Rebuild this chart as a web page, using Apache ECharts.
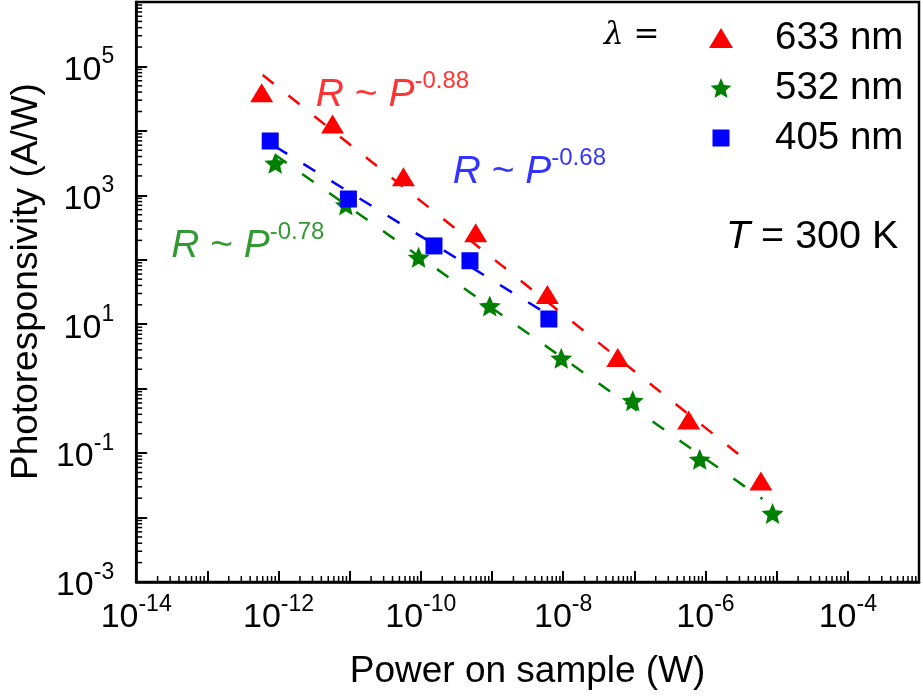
<!DOCTYPE html>
<html>
<head>
<meta charset="utf-8">
<title>Photoresponsivity vs power</title>
<script src="https://cdn.jsdelivr.net/npm/echarts@6.0.0/dist/echarts.min.js"></script>
<style>
  html, body { margin: 0; padding: 0; background: #fff; }
  #chart { width: 923px; height: 696px; }
</style>
</head>
<body>
<div id="chart"></div>
<script>
// Incident power (W) and photoresponsivity (A/W) for each excitation wavelength
const power633 = [5.8e-13, 5.75e-12, 5.7e-11, 5.9e-10, 6.0e-9, 5.85e-8, 5.8e-7, 6.0e-6];
const resp633  = [3.9e4, 1.28e4, 1950, 263, 29, 3.05, 0.325, 0.037];
const power532 = [9.0e-13, 8.85e-12, 9.3e-11, 9.3e-10, 9.4e-9, 9.5e-8, 8.3e-7, 8.75e-6];
const resp532  = [3140, 708, 109, 19.2, 2.96, 0.65, 0.080, 0.0116];
const power405 = [7.65e-13, 9.6e-12, 1.53e-10, 4.9e-10, 6.3e-9];
const resp405  = [6970, 877, 164, 96.6, 12.05];

// Power-law fits R ~ P^k : exponent, start point [P, R], end power
const fitExp633 = -0.88, fitStart633 = [6.0e-13, 7.36e4], fitEnd633 = 3.55e-6;
const fitExp532 = -0.78, fitStart532 = [9.0e-13, 4240],  fitEnd532 = 6.3e-6;
const fitExp405 = -0.68, fitStart405 = [9.0e-13, 5715],  fitEnd405 = 6.3e-9;

// Axis ranges and labelled decades
const xRange = [1e-14, 1e-3];
const yRange = [1e-3, 1e6];
const xLabelExponents = [-14, -12, -10, -8, -6, -4];
const yLabelExponents = [-3, -1, 1, 3, 5];

const SANS = "'Liberation Sans', Arial, Helvetica, sans-serif";
const SERIF = "'DejaVu Serif', 'Liberation Serif', serif";
const RED = '#ff0000', GREEN = '#008000', BLUE = '#0000ff';

function zip(xs, ys) { return xs.map((x, i) => [x, ys[i]]); }

function fitLine(k, start, endP) {
  const endR = start[1] * Math.pow(endP / start[0], k);
  return [start, [endP, endR]];
}

// five-pointed star outline
function starPath(outer, inner) {
  const pts = [];
  for (let i = 0; i < 10; i++) {
    const a = (-90 + 36 * i) * Math.PI / 180;
    const r = i % 2 ? inner : outer;
    pts.push((r * Math.cos(a)).toFixed(3) + ',' + (r * Math.sin(a)).toFixed(3));
  }
  return 'path://M' + pts.join('L') + 'Z';
}
const STAR = starPath(10, 4.5);
// square centred in a 24x20 box so the legend keeps it small
const LEGEND_SQUARE = 'path://M0,0M24,20M3.5,1.5L20.5,1.5L20.5,18.5L3.5,18.5Z';

// minor tick values (2..9 x 10^n) inside each axis range
function minorTicks(lo, hi) {
  const out = [];
  for (let e = Math.round(Math.log10(lo)); e < Math.round(Math.log10(hi)); e++) {
    for (let m = 2; m <= 9; m++) out.push(m * Math.pow(10, e));
  }
  return out;
}
const xMinor = minorTicks(xRange[0], xRange[1]);
const yMinor = minorTicks(yRange[0], yRange[1]);

function expOf(v) { return Math.round(Math.log10(v)); }

const tickRich = {
  b: { fontSize: 34, fontFamily: SANS, color: '#000', verticalAlign: 'bottom' },
  s: { fontSize: 23, fontFamily: SANS, color: '#000', verticalAlign: 'top' }
};

function powerLabel(color, exponent, coord) {
  return {
    type: 'scatter', silent: true, symbolSize: 0, z: 6,
    data: [coord],
    label: {
      show: true, position: 'right', distance: 0, lineHeight: 45,
      formatter: '{i|R}{n| ~ }{i|P}{s|' + exponent + '}',
      rich: {
        i: { fontSize: 39, fontStyle: 'italic', fontFamily: SANS, color: color, verticalAlign: 'bottom' },
        n: { fontSize: 39, fontFamily: SANS, color: color, verticalAlign: 'bottom' },
        s: { fontSize: 24, fontFamily: SANS, color: color, verticalAlign: 'top' }
      }
    }
  };
}

function fitSeries(color, data) {
  return {
    type: 'line', data: data, symbol: 'none', silent: true, z: 5,
    lineStyle: { color: color, width: 2.5, type: [14, 19], cap: 'butt' }
  };
}

const chart = echarts.init(document.getElementById('chart'), null, { renderer: 'canvas' });

chart.setOption({
  animation: false,
  backgroundColor: '#fff',
  grid: { left: 135, right: 4, top: 2, bottom: 114, show: true, borderColor: '#000', borderWidth: 2.5 },
  xAxis: {
    type: 'log', logBase: 10, min: xRange[0], max: xRange[1], interval: 1,
    name: 'Power on sample (W)', nameLocation: 'middle', nameGap: 71,
    nameTextStyle: { fontSize: 37, fontFamily: SANS, color: '#000' },
    axisLine: { lineStyle: { color: '#000', width: 2.5 } },
    axisTick: { inside: true, length: 11, lineStyle: { color: '#000', width: 2 } },
    splitLine: { show: false },
    axisLabel: {
      margin: 11, lineHeight: 42, rich: tickRich,
      formatter: v => xLabelExponents.includes(expOf(v)) ? '{b|10}{s|' + expOf(v) + '}' : ''
    }
  },
  yAxis: {
    type: 'log', logBase: 10, min: yRange[0], max: yRange[1], interval: 1,
    name: 'Photoresponsivity (A/W)', nameLocation: 'middle', nameGap: 87,
    nameTextStyle: { fontSize: 37, fontFamily: SANS, color: '#000', padding: [0, 0, 0, 21] },
    axisLine: { lineStyle: { color: '#000', width: 2.5 } },
    axisTick: { inside: true, length: 11, lineStyle: { color: '#000', width: 2 } },
    splitLine: { show: false },
    axisLabel: {
      margin: 22, lineHeight: 42, rich: tickRich,
      formatter: v => yLabelExponents.includes(expOf(v)) ? '{b|10}{s|' + expOf(v) + '}' : ''
    }
  },
  legend: {
    orient: 'vertical', left: 704, top: 12, itemWidth: 24, itemHeight: 20, itemGap: 8,
    selectedMode: false,
    textStyle: { fontSize: 38.5, fontFamily: SANS, color: '#000', lineHeight: 37, padding: [5, 0, 0, 37] },
    data: [
      { name: '633 nm', icon: 'triangle' },
      { name: '532 nm', icon: STAR },
      { name: '405 nm', icon: LEGEND_SQUARE }
    ]
  },
  graphic: [
    {
      type: 'text', x: 604, y: 36, silent: true,
      style: {
        text: '{l|λ}{e| =}', verticalAlign: 'middle',
        rich: {
          l: { fontSize: 31, fontStyle: 'italic', fontFamily: SERIF, fill: '#000' },
          e: { fontSize: 31, fontFamily: SERIF, fill: '#000' }
        }
      }
    },
    {
      type: 'text', x: 726, y: 237, silent: true,
      style: {
        text: '{i|T}{n| = 300 K}', verticalAlign: 'middle',
        rich: {
          i: { fontSize: 39.5, fontStyle: 'italic', fontFamily: SANS, fill: '#000' },
          n: { fontSize: 39.5, fontFamily: SANS, fill: '#000' }
        }
      }
    }
  ],
  series: [
    {
      name: '532 nm', type: 'scatter', z: 2, symbol: STAR, symbolSize: [22, 21],
      itemStyle: { color: GREEN, opacity: 1 }, data: zip(power532, resp532)
    },
    {
      name: '405 nm', type: 'scatter', z: 3, symbol: 'rect', symbolSize: 17,
      itemStyle: { color: BLUE, opacity: 1 }, data: zip(power405, resp405)
    },
    {
      name: '633 nm', type: 'scatter', z: 3, symbol: 'triangle', symbolSize: [23, 19],
      itemStyle: { color: RED, opacity: 1 }, data: zip(power633, resp633)
    },
    fitSeries(RED, fitLine(fitExp633, fitStart633, fitEnd633)),
    fitSeries(GREEN, fitLine(fitExp532, fitStart532, fitEnd532)),
    fitSeries(BLUE, fitLine(fitExp405, fitStart405, fitEnd405)),
    powerLabel(RED, '-0.88', [3.35e-12, 4.03e4]),
    powerLabel(BLUE, '-0.68', [2.8e-10, 2534]),
    powerLabel(GREEN, '-0.78', [3.1e-14, 182]),
    {
      // minor ticks along the power axis
      type: 'custom', silent: true, z: 7,
      data: xMinor.map(v => [v, yRange[0]]),
      renderItem: (params, api) => {
        const p = api.coord([api.value(0), api.value(1)]);
        return { type: 'line', shape: { x1: p[0], y1: p[1], x2: p[0], y2: p[1] - 6 },
                 style: { stroke: '#000', lineWidth: 1.5 } };
      }
    },
    {
      // minor ticks along the responsivity axis
      type: 'custom', silent: true, z: 7,
      data: yMinor.map(v => [xRange[0], v]),
      renderItem: (params, api) => {
        const p = api.coord([api.value(0), api.value(1)]);
        return { type: 'line', shape: { x1: p[0], y1: p[1], x2: p[0] + 6, y2: p[1] },
                 style: { stroke: '#000', lineWidth: 1.5 } };
      }
    }
  ]
});
</script>
</body>
</html>
